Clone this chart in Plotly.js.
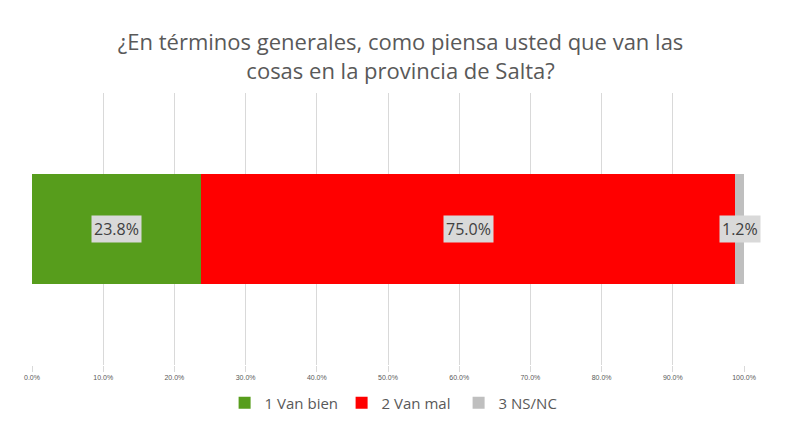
<!DOCTYPE html>
<html>
<head>
<meta charset="utf-8">
<script src="https://cdn.plot.ly/plotly-3.0.1.min.js"></script>
<style>
  body { margin: 0; background: #fff; }
  #plot { width: 806px; height: 430px; }
</style>
</head>
<body>
<div id="plot"></div>
<script>
// survey answers, one stacked bar
const seriesNames = ["1 Van bien", "2 Van mal", "3 NS/NC"];
const seriesValues = [23.8, 75.0, 1.2];
const seriesColors = ["#579d1c", "#ff0000", "#bfbfbf"];
const category = ["Salta"];
const tickVals = [0, 10, 20, 30, 40, 50, 60, 70, 80, 90, 100];
const tickText = ["0.0%", "10.0%", "20.0%", "30.0%", "40.0%", "50.0%", "60.0%", "70.0%", "80.0%", "90.0%", "100.0%"];

let traces = [];
let notes = [];
let start = 0;
for (let i = 0; i < seriesNames.length; i++) {
  traces.push({
    type: "bar",
    orientation: "h",
    name: seriesNames[i],
    x: [seriesValues[i]],
    y: category,
    marker: { color: seriesColors[i] },
    hoverinfo: "none"
  });
  // label sits in the middle of its segment
  notes.push({
    x: start + seriesValues[i] / 2,
    y: category[0],
    xref: "x",
    yref: "y",
    text: seriesValues[i].toFixed(1) + "%",
    showarrow: false,
    bgcolor: "#d9d9d9",
    borderpad: 2,
    font: { family: "Open Sans, sans-serif", size: 16, color: "#404040" }
  });
  start += seriesValues[i];
}

Plotly.newPlot("plot", traces, {
  width: 806,
  height: 430,
  barmode: "stack",
  bargap: 0.595,
  margin: { l: 32, r: 62, t: 93, b: 65, autoexpand: false },
  paper_bgcolor: "#ffffff",
  plot_bgcolor: "#ffffff",
  title: {
    text: "¿En términos generales, como piensa usted que van las<br>cosas en la provincia de Salta?",
    x: 0.497,
    xanchor: "center",
    y: 0.883,
    yanchor: "top",
    font: { family: "Open Sans, sans-serif", size: 22, color: "#595959" }
  },
  xaxis: {
    range: [0, 100],
    tickvals: tickVals,
    ticktext: tickText,
    showgrid: true,
    gridcolor: "#d9d9d9",
    zeroline: false,
    showline: false,
    ticks: "outside",
    ticklen: 6,
    tickcolor: "#d9d9d9",
    tickfont: { family: "Liberation Sans, sans-serif", size: 7, color: "#595959" },
    fixedrange: true
  },
  yaxis: {
    showticklabels: false,
    showgrid: false,
    zeroline: false,
    fixedrange: true
  },
  legend: {
    orientation: "h",
    x: 0.517,
    xanchor: "center",
    y: -0.14,
    yanchor: "middle",
    traceorder: "normal",
    font: { family: "Open Sans, sans-serif", size: 15, color: "#595959" },
    itemwidth: 30,
    entrywidth: 72
  },
  annotations: notes,
  showlegend: true
}, { displayModeBar: false, staticPlot: true });
</script>
</body>
</html>
